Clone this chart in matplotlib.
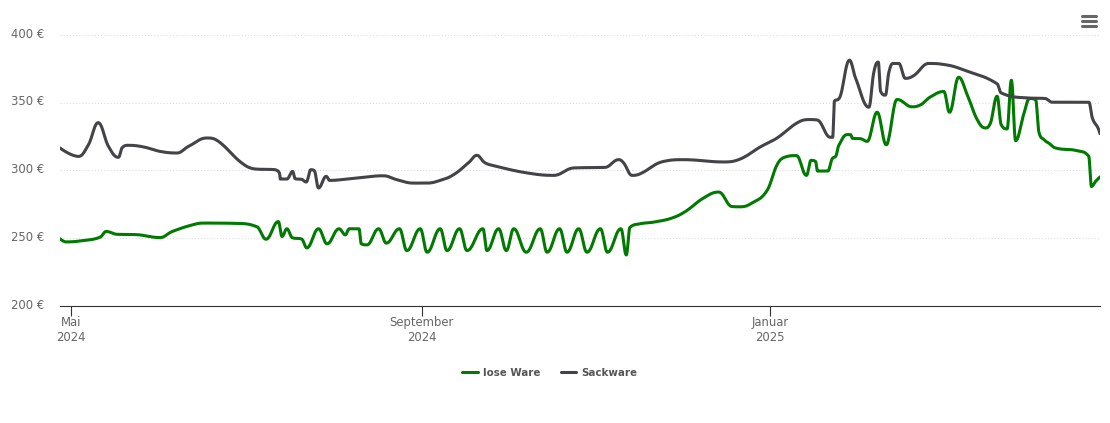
import numpy as np
import matplotlib
matplotlib.use("Agg")
import matplotlib.pyplot as plt
from matplotlib.lines import Line2D
from matplotlib.transforms import ScaledTranslation

SERIES_NAMES = ["lose Ware", "Sackware"]
COLORS = ["#007a00", "#434348"]
Y_TICKS = [200, 250, 300, 350, 400]
X_TICK_DAYS = [0, 123, 245.3]
X_TICK_LABELS = ["Mai\n2024", "September\n2024", "Januar\n2025"]

# days since 1 May 2024, price in EUR
lose_days = [-3.9,-1.8,4.2,10.2,12.3,16.1,22.5,31.2,35.5,43.5,47,57.6,65.5,68.4,72.7,74,75.7,77.5,81,82.7,
 86.8,89.8,94,96.2,97.6,101,101.8,103.8,107.9,110.6,115.2,117.8,122.5,124.9,129.5,131.9,136.3,138.9,144.5,145.9,
 150,152.7,155.3,159.7,164.6,167,171.4,174,178.1,181,185.7,188.2,192.9,194.8,196,199.7,204.4,210.8,215.5,221.9,
 227.2,231.9,234.8,238.9,244.2,247.7,250.6,254.5,258,259.6,261.2,261.9,265.5,267,268.4,269.3,272.3,273.4,274.2,276.9,
 279.3,282.8,286,286.8,289.8,295,297.4,301.5,306.2,308.2,311.4,314.4,317.9,320.8,322.3,324.9,326.3,328.4,329.9,331.4,
 334.2,336.3,338.4,339.5,341.3,343,345.4,353,357.1,358,359.4,361.2]
lose_vals = [249.6,247.3,248.3,250.8,255,252.9,252.7,250.5,255,260.4,261.2,261,258.2,249.3,262.3,251.3,257,250.5,249.3,242.9,
 257,245.9,257,252.5,257,257,245.9,245.1,257,246.4,257,240.9,257,239.7,257,240.9,257,240.9,257,240.9,
 257,240.9,257,239.7,257,239.7,257,239.7,257,239.7,257,239.7,257,237.7,257.9,260.7,261.9,264.9,269.7,279.7,
 284.1,273.4,273.2,276,285.3,304.3,310,311,296.4,307.5,306.7,299.6,299.6,308.5,311,318.3,326.5,326.5,323.7,323.5,
 321.5,343,319,322.8,352.4,347,347.9,354.3,358.3,343,368.8,356,337.6,331.4,333.9,354.8,333.9,330.7,366.6,322,
 341.3,353.1,352.4,328.9,322.8,320.3,316.6,314.6,310.4,288.2,291.9,295.6]

sack_days = [-3.9,2.6,6.1,9.5,13.1,16.6,17.8,20.1,25.4,31.2,37.1,41.2,47.6,51.7,59.9,64.6,71.6,73.1,73.4,75.7,
 77.7,78.6,81,82.5,84.1,85.3,86.8,89.5,90.7,96.8,105,109.6,114.3,120.1,124.8,129.5,134.2,139.5,142.4,145,148.2,
 160,169.3,176.3,187.4,192.1,193.9,196.8,199.7,207.9,214.9,229,234.8,241.8,247.7,254.7,258.8,261.7,266.4,267.2,267.8,
 269.3,273.1,275.2,279.9,281.6,283.2,284,285.7,286.9,288.4,290.4,292.7,295.7,300.9,306.2,314.4,324.9,326.3,335.4,341.9,
 344.2,357.1,358.3,360.3,361]
sack_vals = [316.6,310.4,319.1,335.3,317.8,309.7,316.6,318.6,317.4,314.1,312.9,317.8,324,321.5,305.5,301.1,300.6,298.1,293.7,293.7,
 299.3,293.9,293.4,291.5,300.6,299.9,287.1,295.7,292.7,293.7,295.6,296.1,293.2,290.7,290.7,292.7,296.9,305.8,311.2,306,303.6,
 298.2,296.4,301.9,302.3,308,305.5,296.4,297.6,306.7,308,306.3,308.5,317.4,324,335.1,337.6,337.3,324.5,324.5,351.1,
 352.9,381.4,368.4,346.7,372.1,380,358.5,355.6,372.3,379,379,368,370.1,379,378.2,373.3,364,357.3,353.6,353.1,
 350.4,350.4,338.8,331.4,327.2]


def spline(xs, ys, n=24, smoothing=1.5, denom=2.5):
    """Cubic Bezier spline through the read points, sampled for drawing."""
    xs = np.asarray(xs, float); ys = np.asarray(ys, float)
    m = len(xs)
    lx, ly, rx, ry = xs.copy(), ys.copy(), xs.copy(), ys.copy()
    for i in range(1, m - 1):
        a, b = (smoothing * xs[i] + xs[i-1]) / denom, (smoothing * ys[i] + ys[i-1]) / denom
        c, d = (smoothing * xs[i] + xs[i+1]) / denom, (smoothing * ys[i] + ys[i+1]) / denom
        corr = (d - b) * (c - xs[i]) / (c - a) + ys[i] - d
        b += corr; d += corr
        if b > max(ys[i-1], ys[i]):
            b = max(ys[i-1], ys[i]); d = 2 * ys[i] - b
        elif b < min(ys[i-1], ys[i]):
            b = min(ys[i-1], ys[i]); d = 2 * ys[i] - b
        if d > max(ys[i+1], ys[i]):
            d = max(ys[i+1], ys[i]); b = 2 * ys[i] - d
        elif d < min(ys[i+1], ys[i]):
            d = min(ys[i+1], ys[i]); b = 2 * ys[i] - d
        lx[i], ly[i], rx[i], ry[i] = a, b, c, d
    t = np.linspace(0, 1, n, endpoint=False)[:, None]
    out = []
    for i in range(m - 1):
        p0 = np.array([xs[i], ys[i]]); p1 = np.array([rx[i], ry[i]])
        p2 = np.array([lx[i+1], ly[i+1]]); p3 = np.array([xs[i+1], ys[i+1]])
        out.append((1-t)**3*p0 + 3*(1-t)**2*t*p1 + 3*(1-t)*t**2*p2 + t**3*p3)
    out.append(np.array([[xs[-1], ys[-1]]]))
    out = np.vstack(out)
    return out[:, 0], out[:, 1]


W, H = 1110, 423
fig = plt.figure(figsize=(W/100, H/100), dpi=100, facecolor="white")
L, R, T, B = 60, 1100, 35, 306
ax = fig.add_axes([L/W, 1-B/H, (R-L)/W, (B-T)/H])
ax.set_xlim(-3.9, 361)
ax.set_ylim(200, 400)
for s in ["top", "left", "right"]:
    ax.spines[s].set_visible(False)
ax.spines["bottom"].set_color("#333333")
ax.spines["bottom"].set_linewidth(0.8)
ax.set_axisbelow(True)
ax.yaxis.grid(True, color="#dcdcdc", lw=0.75, ls=(0, (1, 2)))
ax.set_yticks(Y_TICKS)
ax.set_yticklabels([f"{v} €" for v in Y_TICKS], color="#666666", fontsize=8.4, family="DejaVu Sans")
ax.tick_params(axis="y", length=0, pad=11.5)
up = ScaledTranslation(0, 1/100, fig.dpi_scale_trans)
for lab in ax.get_yticklabels():
    lab.set_verticalalignment("center")
    lab.set_transform(lab.get_transform() + up)
ax.set_xticks(X_TICK_DAYS)
ax.set_xticklabels(X_TICK_LABELS, color="#666666", fontsize=8.4, family="DejaVu Sans", linespacing=1.25)
ax.tick_params(axis="x", length=7.5, width=0.8, color="#333333", pad=-0.5)

for name, col, dx, dy in [(SERIES_NAMES[0], COLORS[0], lose_days, lose_vals),
                          (SERIES_NAMES[1], COLORS[1], sack_days, sack_vals)]:
    sx, sy = spline(dx, dy)
    ax.plot(sx, sy, color=col, lw=2.2, label=name, solid_joinstyle="round", solid_capstyle="round")

ax.legend(loc="center", bbox_to_anchor=(550/W, 1-373/H), bbox_transform=fig.transFigure, ncol=2, frameon=False,
          handlelength=1.5, handletextpad=0.5, columnspacing=2.0, borderpad=0,
          prop={"family": "DejaVu Sans", "weight": "bold", "size": 7.4}, labelcolor="#555555")

for yy in [16, 21, 26]:
    fig.add_artist(Line2D([1082/W, 1096/W], [1-yy/H, 1-yy/H], color="#666666", lw=2.2,
                          solid_capstyle="round", transform=fig.transFigure))

fig.savefig("out.png", dpi=100)
